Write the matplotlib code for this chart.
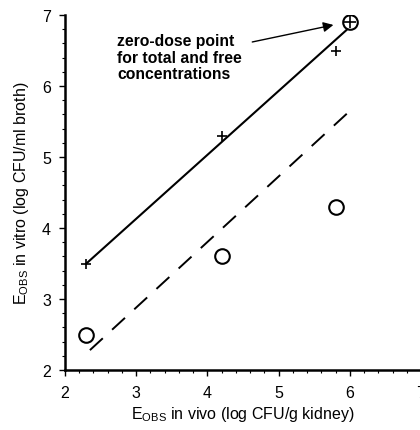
import matplotlib
matplotlib.use("Agg")
import matplotlib.pyplot as plt
from matplotlib.ticker import MultipleLocator

plt.rcParams['font.family'] = ['Liberation Sans', 'DejaVu Sans']

# data
total_x = [2.3, 4.2, 5.8]
total_y = [3.5, 5.3, 6.5]
free_x = [2.3, 4.2, 5.8]
free_y = [2.5, 3.6, 4.3]
zero_x = [6.0]
zero_y = [6.9]
solid_x = [2.3, 6.0]
solid_y = [3.5, 6.83]
dashed_x = [2.35, 5.98]
dashed_y = [2.28, 5.63]
xticks = [2, 3, 4, 5, 6, 7]
yticks = [2, 3, 4, 5, 6, 7]

fig = plt.figure(figsize=(4.2, 4.31), dpi=100)
ax = fig.add_axes([65/420, 60/431, 356/420, 355/431])

ax.plot(solid_x, solid_y, color='black', lw=1.5)
ax.plot(dashed_x, dashed_y, color='black', lw=1.4, dashes=(9, 6.5))
ax.plot(total_x, total_y, '+', color='black', ms=7, mew=1.2, ls='none')
ax.plot(free_x, free_y, 'o', mfc='none', mec='black', ms=10.5, mew=1.5, ls='none')
ax.plot(zero_x, zero_y, 'o', mfc='white', mec='black', ms=10.5, mew=1.5, ls='none')
ax.plot(zero_x, zero_y, '+', color='black', ms=9, mew=1.2, ls='none')

ax.set_xlim(2, 7)
ax.set_ylim(2, 7)
ax.set_xticks(xticks)
ax.set_yticks(yticks)
ax.xaxis.set_minor_locator(MultipleLocator(0.2))
ax.yaxis.set_minor_locator(MultipleLocator(0.2))
ax.tick_params(which='major', direction='out', length=4, width=1, labelsize=11.5)
ax.tick_params(which='minor', direction='out', length=2, width=0.8)
ax.tick_params(axis='x', pad=7)
ax.tick_params(axis='y', pad=6)
for s in ['top', 'right']:
    ax.spines[s].set_visible(False)
for s in ['left', 'bottom']:
    ax.spines[s].set_linewidth(1.8)

ax.set_xlabel(r'E$_{\mathregular{OBS}}$ in vivo (log CFU/g kidney)', fontsize=11.5, labelpad=3)
ax.set_ylabel(r'E$_{\mathregular{OBS}}$ in vitro (log CFU/ml broth)', fontsize=11.5, labelpad=8)

ax.text(2.73, 6.74, 'zero-dose point\nfor total and free\nconcentrations',
        fontsize=11.3, fontweight='bold', ha='left', va='top', linespacing=1.1)
ax.annotate('', xy=(5.77, 6.86), xytext=(4.63, 6.62),
            arrowprops=dict(arrowstyle='-|>', color='black', lw=1.0,
                            mutation_scale=15, shrinkA=0, shrinkB=0),
            annotation_clip=False)

fig.savefig('out.png', dpi=100)
